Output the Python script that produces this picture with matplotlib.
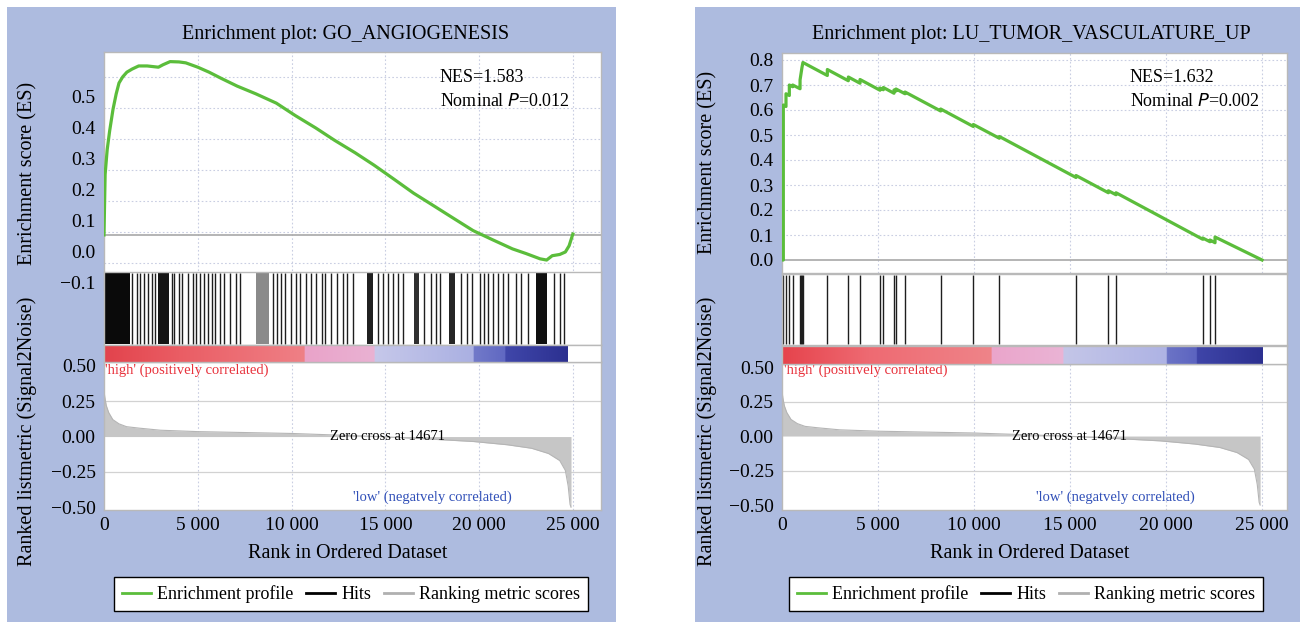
import numpy as np
import matplotlib
matplotlib.use('Agg')
import matplotlib.pyplot as plt
from matplotlib.lines import Line2D
from matplotlib.patches import Rectangle
from matplotlib.colors import to_rgb

plt.rcParams['font.family'] = ['Liberation Serif', 'DejaVu Serif']
plt.rcParams['axes.unicode_minus'] = True

# ---------------- data ----------------
titles = ['Enrichment plot: GO_ANGIOGENESIS', 'Enrichment plot: LU_TUMOR_VASCULATURE_UP']
nes_values = ['1.583', '1.632']
p_values = ['0.012', '0.002']
zero_cross = 14671
n_genes = 25000

xticks = [0, 5000, 10000, 15000, 20000, 25000]
xtick_labels = ['0', '5 000', '10 000', '15 000', '20 000', '25 000']

es_ticks_left = [-0.1, 0.0, 0.1, 0.2, 0.3, 0.4, 0.5]
es_ticks_right = [0.0, 0.1, 0.2, 0.3, 0.4, 0.5, 0.6, 0.7, 0.8]
metric_ticks = [-0.50, -0.25, 0.00, 0.25, 0.50]

# Left panel: running enrichment score (rank, ES)
left_es_rank = [0, 60, 170, 300, 480, 650, 800, 1000, 1220, 1500, 1850, 2300,
                2900, 3150, 3525, 4000, 4360, 5000, 5600, 6250, 7100, 8100,
                9190, 10200, 11290, 12300, 13390, 14400, 15480, 16500, 17580,
                18600, 19680, 20700, 21780, 22500, 23250, 23600, 23900, 24300,
                24600, 24800, 25000]
left_es = [0.055, 0.25, 0.33, 0.39, 0.46, 0.51, 0.545, 0.565, 0.58, 0.59, 0.60,
           0.60, 0.596, 0.604, 0.614, 0.613, 0.61, 0.596, 0.58, 0.56, 0.535,
           0.51, 0.48, 0.44, 0.40, 0.36, 0.32, 0.28, 0.234, 0.19, 0.149,
           0.11, 0.069, 0.04, 0.01, -0.005, -0.022, -0.026, -0.012, -0.008,
           0.0, 0.02, 0.058]

# Left panel: gene-set hits (ranks) and dense hit blocks (start, end)
left_hits = [1490, 1770, 1900, 2120, 2330, 2550, 2720, 3600, 3740, 4000, 4170,
             4470, 4750, 4880, 5140, 5320, 5530, 5750, 5930, 6160, 6400, 6720,
             7030, 7250, 9000, 9230, 9440, 9670, 9960, 10230, 10440, 10750,
             11020, 11310, 11600, 11800, 12120, 12420, 12720, 12940, 13290,
             14600, 14870, 15130, 15400, 15660, 15920, 17060, 17410, 17680,
             17940, 19040, 19340, 19610, 20040, 20260, 20480, 20740, 21010,
             21270, 21530, 21970, 22240, 22590, 23990, 24340, 24520]
left_hit_blocks = [(0, 1370), (2860, 3470), (8090, 8820), (14030, 14340),
                   (16540, 16800), (18380, 18730), (23030, 23640)]
left_hit_block_shade = ['#0a0a0a', '#151515', '#8a8a8a', '#202020',
                        '#303030', '#252525', '#101010']

# Right panel: hits and running enrichment score
right_hits = [69, 208, 382, 556, 940, 990, 1040, 1090, 2361, 3455, 4063, 5104,
              5278, 5833, 5937, 6406, 8264, 9965, 11319, 15312, 16996, 17395,
              21909, 22291, 22552]
right_es_rank = [0, 69, 69, 208, 208, 382, 382, 556, 556, 940, 940, 990, 1040,
                 1090, 2361, 2361, 3455, 3455, 4063, 4063, 5104, 5104, 5278,
                 5278, 5833, 5833, 5937, 5937, 6406, 6406, 8264, 8264, 9965,
                 9965, 11319, 11319, 15312, 15312, 16996, 16996, 17395, 17395,
                 21909, 21909, 22291, 22291, 22552, 22552, 25000]
right_es = [0.0, 0.0, 0.62, 0.614, 0.665, 0.658, 0.70, 0.693, 0.70, 0.685,
            0.72, 0.745, 0.77, 0.79, 0.738, 0.762, 0.717, 0.732, 0.707, 0.722,
            0.679, 0.688, 0.681, 0.690, 0.667, 0.680, 0.676, 0.684, 0.665,
            0.672, 0.596, 0.604, 0.534, 0.542, 0.487, 0.494, 0.33, 0.338,
            0.269, 0.277, 0.261, 0.269, 0.083, 0.088, 0.073, 0.080, 0.069,
            0.092, 0.0]

# Ranked list metric (Signal2Noise), same dataset for both panels
metric_rank = [0, 40, 120, 250, 470, 800, 1200, 1850, 3000, 5000, 10000,
               14671, 17000, 19700, 21500, 22800, 23700, 24300, 24600, 24750,
               24850, 24900]
metric = [0.33, 0.28, 0.22, 0.17, 0.12, 0.09, 0.07, 0.06, 0.045, 0.035, 0.022,
          0.0, -0.015, -0.035, -0.058, -0.083, -0.12, -0.17, -0.24, -0.35,
          -0.48, -0.50]

# colour bar stops along the ranked list (rank, colour)
cbar_left_rank = [0, 4000, 10680, 10680, 14420, 14420, 19680, 19680, 21370,
                  21370, 24700]
cbar_left_col = ['#e2434c', '#ea5d64', '#ef8086', '#eaa3c9', '#e9b2d3',
                 '#c6c8ea', '#aab0e2', '#727ac9', '#6068c2', '#4047aa',
                 '#2c3090']
cbar_right_rank = [0, 4500, 10900, 10900, 14630, 14630, 20000, 20000, 21580,
                   21580, 25000]
cbar_right_col = ['#e6434c', '#ee6a72', '#ef8489', '#eaa5cb', '#ebb4d5',
                  '#c4c6e8', '#aeb3e4', '#6c74c6', '#5c64c0', '#3f45a8',
                  '#2c3090']

# ---------------- style ----------------
BG = '#adbbdf'
GREEN = '#5bbd3b'
SPINE = '#b9b9b9'
GRID = '#c9cee2'
TICK_FS = 14
W, H = 1306, 628

fig = plt.figure(figsize=(W / 100, H / 100), dpi=100)


def fr(x0, y0, x1, y1):
    """pixel box -> figure fraction [l, b, w, h]"""
    return [x0 / W, 1 - y1 / H, (x1 - x0) / W, (y1 - y0) / H]


for (x0, x1) in [(7, 616), (695, 1300)]:
    fig.patches.append(Rectangle((x0 / W, 1 - 622 / H), (x1 - x0) / W, 615 / H,
                                 transform=fig.transFigure, facecolor=BG,
                                 edgecolor='none', zorder=-10))


def style_spines(ax):
    for s in ax.spines.values():
        s.set_color(SPINE)
        s.set_linewidth(1.0)


def colorbar_image(ranks, cols, n):
    xs = np.linspace(0, n, 1200)
    rgb = np.array([to_rgb(c) for c in cols])
    r = np.array(ranks, dtype=float)
    img = np.zeros((1, len(xs), 3))
    for i, x in enumerate(xs):
        j = np.searchsorted(r, x, side='right') - 1
        j = min(max(j, 0), len(r) - 2)
        if r[j + 1] == r[j]:
            j = min(j + 1, len(r) - 2)
        t = 0.0 if r[j + 1] == r[j] else (x - r[j]) / (r[j + 1] - r[j])
        t = min(max(t, 0.0), 1.0)
        img[0, i, :] = rgb[j] * (1 - t) + rgb[j + 1] * t
    return img, xs[-1]


panels = [
    dict(px=(104, 601), top=(52, 290), hbox=(272, 345), cbar=(345, 362),
         bot=(362, 510), xmax=26500, es_ylim=(-0.1226, 0.645),
         es_ticks=es_ticks_left, grid_shift=0.065,
         zero_line=0.055, es_rank=left_es_rank, es=left_es,
         hitlist=left_hits, blocks=left_hit_blocks, shades=left_hit_block_shade,
         cb_rank=cbar_left_rank, cb_col=cbar_left_col,
         met_ylim=(-0.52, 0.528), title_xy=(346, 35), legend_xy=(351, 594),
         ylabel_x=37, ylabel_yc=173, nes_x=440),
    dict(px=(782, 1287), top=(53, 273), hbox=(274, 345), cbar=(346, 364),
         bot=(364, 510), xmax=26300, es_ylim=(-0.052, 0.828),
         es_ticks=es_ticks_right, grid_shift=0.0,
         zero_line=0.0, es_rank=right_es_rank, es=right_es,
         hitlist=right_hits, blocks=[], shades=[],
         cb_rank=cbar_right_rank, cb_col=cbar_right_col,
         met_ylim=(-0.536, 0.522), title_xy=(1031, 35), legend_xy=(1026, 594),
         ylabel_x=717, ylabel_yc=162, nes_x=1130),
]

for i, P in enumerate(panels):
    x0, x1 = P['px']
    # ---- enrichment score axes ----
    ax = fig.add_axes(fr(x0, P['top'][0], x1, P['top'][1]))
    ax.set_xlim(0, P['xmax'])
    ax.set_ylim(*P['es_ylim'])
    ax.set_yticks(P['es_ticks'])
    ax.set_yticklabels(['{:.1f}'.format(v).replace('-', '\u2212') for v in P['es_ticks']])
    ax.set_xticks(xticks)
    ax.tick_params(axis='x', labelbottom=False, length=0)
    ax.tick_params(axis='y', length=0, pad=6, labelsize=TICK_FS)
    for t in xticks[1:]:
        ax.axvline(t, color=GRID, lw=0.8, ls=(0, (1.5, 2)), zorder=0)
    for v in P['es_ticks']:
        if abs(v + P['grid_shift'] - P['zero_line']) > 1e-6:
            ax.axhline(v + P['grid_shift'], color=GRID, lw=0.8, ls=(0, (1.5, 2)), zorder=0)
    ax.axhline(P['zero_line'], color='#a8a8a8', lw=1.2, zorder=1)
    ax.plot(P['es_rank'], P['es'], color=GREEN, lw=2.3, solid_joinstyle='round', zorder=3)
    style_spines(ax)
    ax.set_ylabel('Enrichment score (ES)', fontsize=14.5)
    th = P['top'][1] - P['top'][0]
    ax.yaxis.set_label_coords((P['ylabel_x'] - x0) / (x1 - x0),
                              (P['top'][1] - P['ylabel_yc']) / th)
    ax.text((P['nes_x'] - x0) / (x1 - x0), (P['top'][1] - 77) / th,
            'NES=' + nes_values[i], transform=ax.transAxes, fontsize=13,
            va='center', ha='left')
    ax.text((P['nes_x'] - x0) / (x1 - x0), (P['top'][1] - 101) / th,
            'Nominal $\\mathit{P}$=' + p_values[i], transform=ax.transAxes, fontsize=13,
            va='center', ha='left')
    fig.text(P['title_xy'][0] / W, 1 - P['title_xy'][1] / H, titles[i],
             fontsize=14.5, ha='center', va='center')

    # ---- hits axes ----
    hx = fig.add_axes(fr(x0, P['hbox'][0], x1, P['hbox'][1]))
    hx.set_zorder(2)
    hx.set_facecolor('white')
    hx.set_xlim(0, P['xmax'])
    hx.set_ylim(0, 1)
    hx.set_xticks([])
    hx.set_yticks([])
    for (s, e), c in zip(P['blocks'], P['shades']):
        hx.axvspan(s, e, ymin=0.02, ymax=0.98, color=c, lw=0)
    hx.vlines(P['hitlist'], 0.02, 0.98, color='#1e1e1e', lw=1.0)
    style_spines(hx)

    # ---- colour bar ----
    cx = fig.add_axes(fr(x0, P['cbar'][0], x1, P['cbar'][1]))
    cx.set_zorder(2)
    img, xend = colorbar_image(P['cb_rank'], P['cb_col'], P['cb_rank'][-1])
    cx.imshow(img, aspect='auto', extent=(0, xend, 0, 1), interpolation='bilinear')
    cx.set_xlim(0, P['xmax'])
    cx.set_ylim(0, 1)
    cx.set_xticks([])
    cx.set_yticks([])
    style_spines(cx)

    # ---- ranked metric ----
    bx = fig.add_axes(fr(x0, P['bot'][0], x1, P['bot'][1]))
    bx.set_xlim(0, P['xmax'])
    bx.set_ylim(*P['met_ylim'])
    bx.set_yticks(metric_ticks)
    bx.set_yticklabels(['{:.2f}'.format(v).replace('-', '\u2212') for v in metric_ticks])
    bx.set_xticks(xticks)
    bx.set_xticklabels(xtick_labels)
    bx.tick_params(length=0, labelsize=TICK_FS)
    bx.tick_params(axis='y', pad=6)
    bx.tick_params(axis='x', pad=5)
    for t in xticks[1:]:
        bx.axvline(t, color=GRID, lw=0.8, ls=(0, (1.5, 2)), zorder=0)
    for v in [-0.25, 0.25]:
        bx.axhline(v, color='#d2d2d2', lw=0.9, zorder=0)
    bx.fill_between(metric_rank, metric, 0, color='#c6c6c6', lw=0, zorder=2)
    bx.plot(metric_rank, metric, color='#b5b5b5', lw=0.8, zorder=2)
    style_spines(bx)
    hb = P['bot'][1] - P['bot'][0]
    bx.set_xlabel('Rank in Ordered Dataset', fontsize=14.5)
    bx.xaxis.set_label_coords(0.49, (P['bot'][1] - 544) / hb)
    bx.set_ylabel('Ranked listmetric (Signal2Noise)', fontsize=14.5)
    bx.yaxis.set_label_coords((P['ylabel_x'] - x0) / (x1 - x0),
                              (P['bot'][1] - 431) / hb)
    bx.text(0.003, (P['bot'][1] - 370) / hb, "'high' (positively correlated)",
            transform=bx.transAxes, color='#e8323c', fontsize=10.5,
            ha='left', va='center', zorder=5)
    bx.text(0.57, (P['bot'][1] - 436) / hb,
            'Zero cross at ' + str(zero_cross), transform=bx.transAxes,
            fontsize=10.5, ha='center', va='center', zorder=5)
    bx.text(0.66, (P['bot'][1] - 497) / hb, "'low' (negatvely correlated)",
            transform=bx.transAxes, color='#3150b8', fontsize=10.5,
            ha='center', va='center', zorder=5)

    # ---- legend ----
    handles = [Line2D([], [], color=GREEN, lw=2),
               Line2D([], [], color='black', lw=2),
               Line2D([], [], color='#b0b0b0', lw=2)]
    fig.legend(handles, ['Enrichment profile', 'Hits', 'Ranking metric scores'],
               loc='center', bbox_to_anchor=(P['legend_xy'][0] / W, 1 - P['legend_xy'][1] / H),
               ncol=3, fontsize=13, frameon=True, fancybox=False, edgecolor='black',
               facecolor='white', framealpha=1, handlelength=1.6, handletextpad=0.35,
               columnspacing=0.7, borderpad=0.45)

fig.savefig('out.png', dpi=100, facecolor='white')
